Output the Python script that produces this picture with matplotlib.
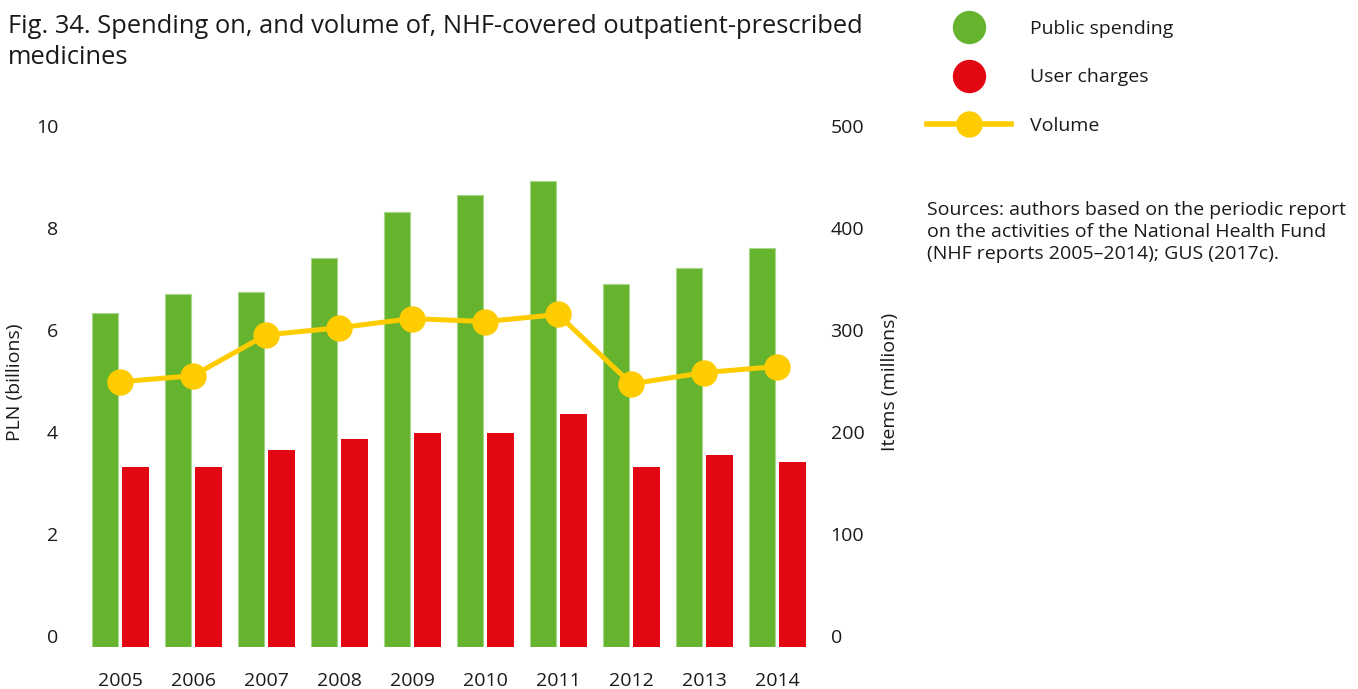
import matplotlib
matplotlib.use("Agg")
import matplotlib.pyplot as plt
import numpy as np
from matplotlib.lines import Line2D

# Data
years = ["2005", "2006", "2007", "2008", "2009", "2010", "2011", "2012", "2013", "2014"]
public_spending = [6.55, 6.92, 6.96, 7.63, 8.53, 8.86, 9.14, 7.12, 7.43, 7.82]   # PLN billions
user_charges = [3.53, 3.53, 3.86, 4.08, 4.20, 4.20, 4.57, 3.53, 3.76, 3.63]      # PLN billions
volume = [260, 266, 306, 313, 322, 319, 326, 258, 269, 275]                      # items, millions
left_ticks = [0, 2, 4, 6, 8, 10]
right_ticks = [0, 100, 200, 300, 400, 500]

GREEN = "#66B32E"
RED = "#E30613"
YELLOW = "#FFCC00"
TEXT = "#1a1a1a"
FS = 14

plt.rcParams["font.family"] = ["Open Sans", "DejaVu Sans"]

W, H = 1358, 689
fig = plt.figure(figsize=(W / 100, H / 100), dpi=100)
ax = fig.add_axes([72 / W, 1 - 647 / H, 746 / W, 510 / H])

x = np.arange(len(years))
ax.bar(x - 0.21, public_spending, width=0.36, color=GREEN,
       edgecolor="#a6d68a", linewidth=0.8, zorder=2)
ax.bar(x + 0.21, user_charges, width=0.36, color=RED, zorder=2)
ax.set_xlim(-0.66, 9.56)
ax.set_ylim(0, 10)
ax.set_yticks(left_ticks)
ax.set_xticks(x, years)

ax2 = ax.twinx()
ax2.plot(x, volume, color=YELLOW, lw=3.6, marker="o", ms=18, zorder=3)
ax2.set_ylim(0, 500)
ax2.set_yticks(right_ticks)

for a in (ax, ax2):
    for s in a.spines.values():
        s.set_visible(False)
    a.tick_params(length=0, labelsize=FS, colors=TEXT)

ax.tick_params(axis="y", pad=10)
ax.tick_params(axis="x", pad=18)
ax2.tick_params(axis="y", pad=9)
for lbl in ax.get_yticklabels() + ax2.get_yticklabels():
    lbl.set_verticalalignment("bottom")

ax.set_ylabel("PLN (billions)", fontsize=FS, color=TEXT)
ax.yaxis.set_label_coords(-0.064, 0.52)
ax2.set_ylabel("Items (millions)", fontsize=FS, color=TEXT)
ax2.yaxis.set_label_coords(1.084, 0.52)

# Title
fig.text(8 / W, 1 - 14 / H,
         "Fig. 34. Spending on, and volume of, NHF-covered outpatient-prescribed\nmedicines",
         fontsize=18.4, color=TEXT, ha="left", va="top", linespacing=1.3)

# Legend
handles = [
    Line2D([], [], marker="o", ms=23, color=GREEN, linestyle="none"),
    Line2D([], [], marker="o", ms=23, color=RED, linestyle="none"),
    Line2D([], [], marker="o", ms=18, color=YELLOW, lw=4),
]
fig.legend(handles, ["Public spending", "User charges", "Volume"],
           loc="upper left", bbox_to_anchor=(927 / W, 1 - 20 / H),
           frameon=False, fontsize=FS, handlelength=4.3, handletextpad=0.98,
           labelspacing=1.56, borderpad=0, borderaxespad=0, labelcolor=TEXT)

# Sources note
fig.text(927 / W, 1 - 201 / H,
         "Sources: authors based on the periodic report\n"
         "on the activities of the National Health Fund\n"
         "(NHF reports 2005\u20132014); GUS (2017c).",
         fontsize=FS, color=TEXT, ha="left", va="top", linespacing=1.3)

fig.savefig("out.png", dpi=100)
